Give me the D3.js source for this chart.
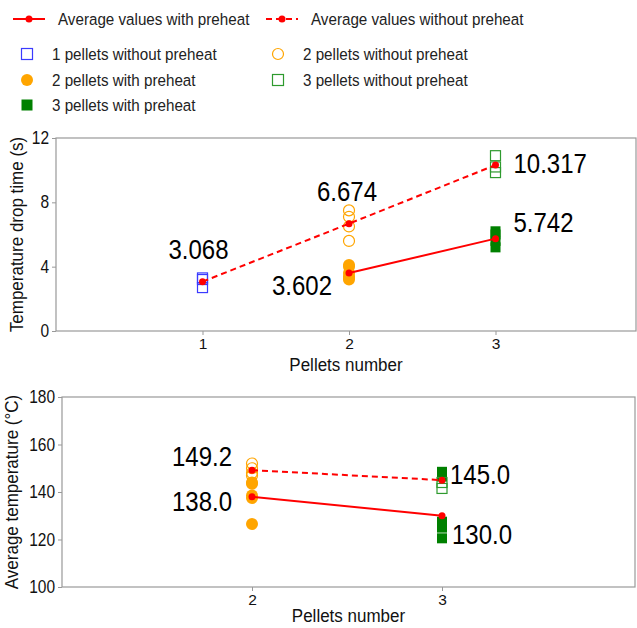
<!DOCTYPE html>
<html><head><meta charset="utf-8">
<script src="https://cdn.jsdelivr.net/npm/d3@7"></script>
<style>body{margin:0;background:#fff}svg{display:block;font-family:"Liberation Sans",Arial,sans-serif}</style>
</head><body><svg id="c" width="637" height="628"></svg>
<script>
// ---- data: top chart (temperature drop time)
const topXTicks = [1, 2, 3];
const topYTicks = [0, 4, 8, 12];
const p1Without = [3.3, 3.2, 2.7];
const p2Without = [7.5, 7.1, 6.5, 5.6];
const p2With = [4.1, 4.0, 3.6, 3.4, 3.3, 3.2];
const p3Without = [10.9, 10.2, 9.85];
const p3With = [6.2, 6.0, 5.6, 5.2];
const topAvgWithX = [2, 3], topAvgWith = [3.602, 5.742];
const topAvgWithoutX = [1, 2, 3], topAvgWithout = [3.068, 6.674, 10.317];
// ---- data: bottom chart (average temperature)
const botXTicks = [2, 3];
const botYTicks = [100, 120, 140, 160, 180];
const b2Without = [152, 150, 148, 147];
const b2With = [144, 143.5, 138.5, 137.5, 126.5];
const b3Without = [144, 141.5];
const b3With = [148.5, 146.5, 127.5, 125, 120.5];
const botAvgWithX = [2, 3], botAvgWith = [138.0, 130.0];
const botAvgWithoutX = [2, 3], botAvgWithout = [149.2, 145.0];

const svg = d3.select("#c");
const RED = "#ff0000", BLUE = "#3b3bff", ORANGE = "#ffa500", GREEN = "#008000", GREENL = "#2e9a2e";
const AX = "#999";
const STRETCH = 1.13;

function stext(parent, x, y, txt, size, anchor) {
  return parent.append("text")
    .attr("transform", `translate(${x},${y}) scale(1,${STRETCH})`)
    .attr("text-anchor", anchor || "start").attr("font-size", size).text(txt);
}

function panel(o) {
  const g = svg.append("g");
  const x = d3.scaleLinear().domain(o.xd).range(o.xr);
  const y = d3.scaleLinear().domain(o.yd).range(o.yr);
  const L = o.xr[0], R = o.right, T = o.yr[1], B = o.yr[0];
  g.append("rect").attr("x", L).attr("y", T).attr("width", R - L).attr("height", B - T)
    .attr("fill", "none").attr("stroke", AX).attr("stroke-width", 1.2);
  const xa = g.append("g").attr("transform", `translate(0,${B})`)
    .call(d3.axisBottom(x).tickValues(o.xt).tickSize(4).tickPadding(3).tickFormat(d3.format("d")));
  const ya = g.append("g").attr("transform", `translate(${L},0)`)
    .call(d3.axisLeft(y).tickValues(o.yt).tickSize(4).tickPadding(3).tickFormat(d3.format("d")));
  [xa, ya].forEach(a => {
    a.select(".domain").remove();
    a.selectAll("line").attr("stroke", AX);
    a.selectAll("text").attr("font-size", 15.5).attr("fill", "#111")
      .attr("font-family", "Liberation Sans, Arial, sans-serif");
  });
  ya.selectAll("text").attr("transform", `scale(1,${STRETCH})`);
  stext(g, (L + R) / 2, B + o.xlOff, o.xlabel, 17, "middle").attr("fill", "#111");
  g.append("text").attr("transform", `translate(${o.ylx},${(T + B) / 2}) rotate(-90) scale(1.0,1.1)`)
    .attr("text-anchor", "middle").attr("font-size", 17).attr("fill", "#111").text(o.ylabel);
  return {g, x, y};
}

function squares(p, xv, vals, color, filled) {
  p.g.selectAll(null).data(vals).enter().append("rect")
    .attr("x", () => p.x(xv) - 5).attr("y", d => p.y(d) - 5).attr("width", 10).attr("height", 10)
    .attr("fill", filled ? color : "none").attr("stroke", color).attr("stroke-width", filled ? 0 : 1.2);
}
function circles(p, xv, vals, color, filled) {
  p.g.selectAll(null).data(vals).enter().append("circle")
    .attr("cx", () => p.x(xv)).attr("cy", d => p.y(d)).attr("r", filled ? 6 : 5.5)
    .attr("fill", filled ? color : "none").attr("stroke", color).attr("stroke-width", filled ? 0 : 1.2);
}
function avgLine(p, xs, ys, dashed) {
  const pts = xs.map((v, i) => [v, ys[i]]);
  p.g.append("path").datum(pts)
    .attr("d", d3.line().x(d => p.x(d[0])).y(d => p.y(d[1])))
    .attr("fill", "none").attr("stroke", RED).attr("stroke-width", 2)
    .attr("stroke-dasharray", dashed ? "6,4" : null);
  p.g.selectAll(null).data(pts).enter().append("circle")
    .attr("cx", d => p.x(d[0])).attr("cy", d => p.y(d[1])).attr("r", 3.5).attr("fill", RED);
}
function label(p, xv, yv, dx, dy, txt, anchor) {
  stext(p.g, p.x(xv) + dx, p.y(yv) + dy, txt, 24, anchor).attr("fill", "#000");
}

// top panel
const t = panel({xd: [0, 4], xr: [56, 642], right: 636, yd: [0, 12], yr: [331, 138], xlOff: 40,
  xt: topXTicks, yt: topYTicks, xlabel: "Pellets number", ylabel: "Temperature drop time (s)", ylx: 23});
squares(t, 1, p1Without, BLUE, false);
circles(t, 2, p2Without, ORANGE, false);
circles(t, 2, p2With, ORANGE, true);
squares(t, 3, p3Without, GREENL, false);
squares(t, 3, p3With, GREEN, true);
avgLine(t, topAvgWithX, topAvgWith, false);
avgLine(t, topAvgWithoutX, topAvgWithout, true);
label(t, 1, topAvgWithout[0], -4, -23, "3.068", "middle");
label(t, 2, topAvgWithout[1], -2, -23, "6.674", "middle");
label(t, 2, topAvgWith[0], -17, 22, "3.602", "end");
label(t, 3, topAvgWithout[2], 18, 8, "10.317", "start");
label(t, 3, topAvgWith[1], 18, -7, "5.742", "start");

// bottom panel
const b = panel({xd: [1, 4], xr: [62, 632], right: 635, yd: [100, 180], yr: [587, 397], xlOff: 35,
  xt: botXTicks, yt: botYTicks, xlabel: "Pellets number", ylabel: "Average temperature (°C)", ylx: 18});
circles(b, 2, b2Without, ORANGE, false);
circles(b, 2, b2With, ORANGE, true);
squares(b, 3, b3With, GREEN, true);
squares(b, 3, b3Without, GREENL, false);
avgLine(b, botAvgWithX, botAvgWith, false);
avgLine(b, botAvgWithoutX, botAvgWithout, true);
label(b, 2, botAvgWithout[0], -20, -4, "149.2", "end");
label(b, 2, botAvgWith[0], -20, 14, "138.0", "end");
label(b, 3, botAvgWithout[1], 8, 4, "145.0", "start");
label(b, 3, botAvgWith[1], 10, 28, "130.0", "start");

// legend
const lg = svg.append("g").attr("fill", "#222");
const LEGFS = 15.2;
function legLine(x0, y0, dashed, txt) {
  lg.append("line").attr("x1", x0).attr("x2", x0 + 32).attr("y1", y0).attr("y2", y0)
    .attr("stroke", RED).attr("stroke-width", 2).attr("stroke-dasharray", dashed ? "6,4" : null);
  lg.append("circle").attr("cx", x0 + 16).attr("cy", y0).attr("r", 3.5).attr("fill", RED);
  stext(lg, x0 + 45, y0 + 6, txt, LEGFS).attr("fill", "#222");
}
legLine(13, 19, false, "Average values with preheat");
legLine(266, 19, true, "Average values without preheat");
function legMark(cx, cy, type, color, filled, txt) {
  if (type === "sq") lg.append("rect").attr("x", cx - 5.5).attr("y", cy - 5.5).attr("width", 11).attr("height", 11)
    .attr("fill", filled ? color : "none").attr("stroke", filled ? "none" : color).attr("stroke-width", 1.2);
  else lg.append("circle").attr("cx", cx).attr("cy", cy).attr("r", filled ? 6 : 5.5)
    .attr("fill", filled ? color : "none").attr("stroke", filled ? "none" : color).attr("stroke-width", 1.2);
  stext(lg, cx + 25, cy + 6, txt, LEGFS).attr("fill", "#222");
}
legMark(27, 54, "sq", BLUE, false, "1 pellets without preheat");
legMark(278, 54, "c", ORANGE, false, "2 pellets without preheat");
legMark(27, 80, "c", ORANGE, true, "2 pellets with preheat");
legMark(278, 80, "sq", GREENL, false, "3 pellets without preheat");
legMark(27, 105, "sq", GREEN, true, "3 pellets with preheat");
</script></body></html>
